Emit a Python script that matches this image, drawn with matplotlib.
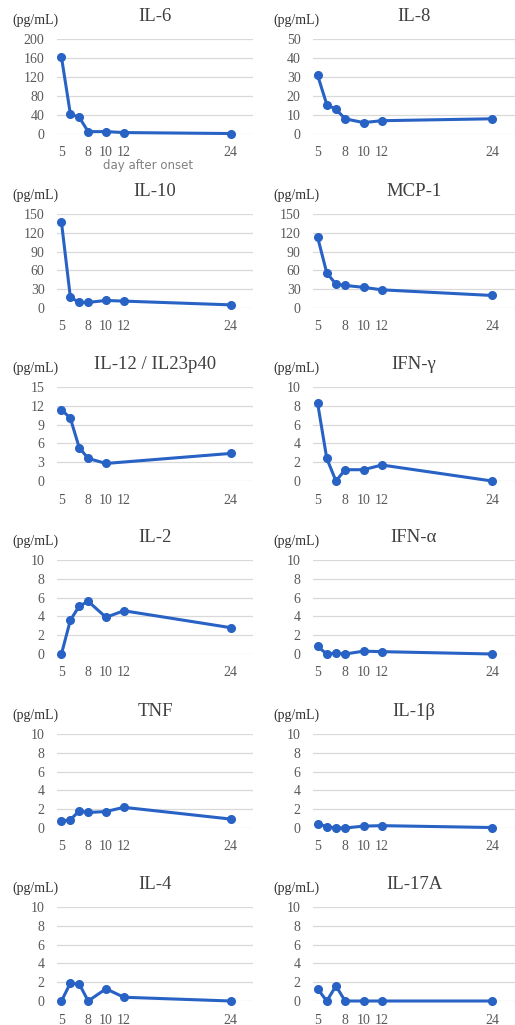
import matplotlib
matplotlib.use('Agg')
import matplotlib.pyplot as plt
import numpy as np

plt.rcParams['font.family'] = ['Liberation Serif', 'DejaVu Serif']

days = [5, 6, 7, 8, 10, 12, 24]
xticks = [5, 8, 10, 12, 24]

names = ["IL-6", "IL-8", "IL-10", "MCP-1", "IL-12 / IL23p40", "IFN-γ",
         "IL-2", "IFN-α", "TNF", "IL-1β", "IL-4", "IL-17A"]

il6 = [162, 42, 35, 5, 5, 3, 1]
il8 = [31, 15.5, 13, 8, 6, 7, 8]
il10 = [137, 17, 9, 9, 12, 11, 5]
mcp1 = [113, 56, 38, 36, 33, 29, 20]
il12 = [11.4, 10, 5.3, 3.6, 2.8, np.nan, 4.4]
ifng = [8.3, 2.4, 0, 1.2, 1.2, 1.7, 0]
il2 = [0, 3.6, 5.1, 5.6, 3.9, 4.6, 2.8]
ifna = [0.8, 0, 0.1, 0, 0.3, 0.25, 0]
tnf = [0.7, 0.9, 1.8, 1.65, 1.75, 2.2, 0.95]
il1b = [0.45, 0.15, 0, 0, 0.2, 0.25, 0.05]
il4 = [0, 1.9, 1.8, 0, 1.3, 0.4, 0]
il17a = [1.3, 0, 1.6, 0, 0, 0, 0]

series = [il6, il8, il10, mcp1, il12, ifng, il2, ifna, tnf, il1b, il4, il17a]
ymax = [200, 50, 150, 150, 15, 10, 10, 10, 10, 10, 10, 10]
ystep = [40, 10, 30, 30, 3, 2, 2, 2, 2, 2, 2, 2]

W, H = 515, 1025
fig = plt.figure(figsize=(W / 100, H / 100), dpi=100)

# pixel rows: (top gridline, zero line) per row
rows = [(39, 134), (214, 308), (387, 481), (560, 654), (734, 828), (907, 1001)]
cols = [(57, 253), (313, 515)]
blue = '#2762C4'
gray = '#595959'

for i, (name, vals) in enumerate(zip(names, series)):
    r, c = divmod(i, 2)
    top, bot = rows[r]
    x0, x1 = cols[c]
    ax = fig.add_axes([x0 / W, 1 - bot / H, (x1 - x0) / W, (bot - top) / H])
    v = np.array(vals, dtype=float)
    m = ~np.isnan(v)
    ax.plot(np.array(days)[m], v[m], color=blue, lw=2.2, marker='o',
            ms=5.5, clip_on=False, zorder=3)
    ax.set_xlim(4.5, 26.5)
    ax.set_ylim(0, ymax[i])
    ax.set_yticks(np.arange(0, ymax[i] + ystep[i] / 2, ystep[i]))
    ax.set_xticks(xticks)
    ax.grid(axis='y', color='#D9D9D9', lw=0.9)
    ax.set_axisbelow(True)
    for s in ax.spines.values():
        s.set_visible(False)
    ax.tick_params(length=0, colors=gray, labelsize=10)
    ax.tick_params(axis='x', pad=9)
    ax.tick_params(axis='y', pad=9)
    ax.set_title(name, fontsize=13.5, color='#404040', pad=13)
    fig.text((35 if c == 0 else 296) / W, 1 - (top - 19) / H, "(pg/mL)",
             ha='center', va='center', fontsize=10, color='#303030')

fig.text(148 / W, 1 - 166 / H, "day after onset", family='DejaVu Sans',
         ha='center', va='center', fontsize=8.5, color='#808080')

fig.savefig('out.png', dpi=100)
